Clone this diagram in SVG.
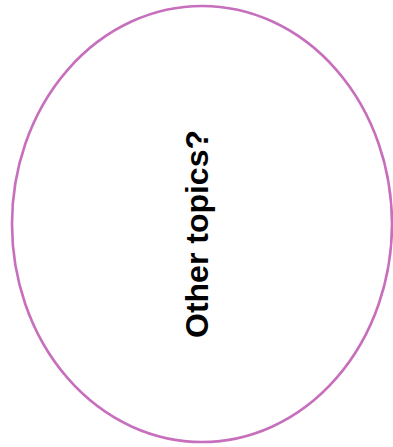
<svg xmlns="http://www.w3.org/2000/svg" width="393" height="447" viewBox="0 0 393 447">
<style>
.node-shape{fill:#ffffff;stroke:#c76fbd;stroke-width:2.6}
.label{font-family:"Liberation Sans",Arial,sans-serif;font-weight:bold;font-size:32px;fill:#000000}
</style>
<rect width="393" height="447" fill="#ffffff"/>
<g id="connectors"></g>
<g id="node-other-topics">
<ellipse class="node-shape" cx="202" cy="224" rx="190" ry="218"/>
<text class="label" text-anchor="middle" transform="translate(207.5,234) rotate(-90)">Other topics?</text>
</g>
</svg>
